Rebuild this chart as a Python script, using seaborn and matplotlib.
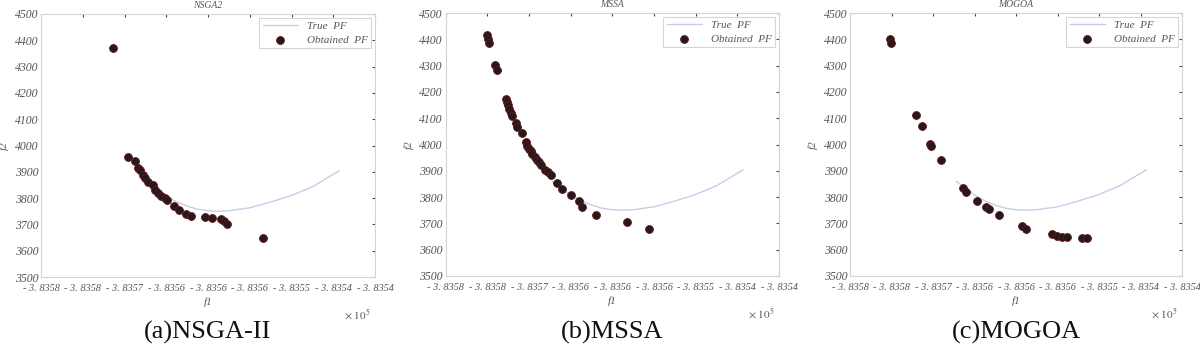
import matplotlib
matplotlib.use("Agg")
import matplotlib.pyplot as plt
import seaborn as sns
import pandas as pd

# ---------------- data (f1 in units of 1e5, f2) ----------------
x_tick_labels = ["- 3. 8358", "- 3. 8358", "- 3. 8357", "- 3. 8356", "- 3. 8356",
                 "- 3. 8356", "- 3. 8355", "- 3. 8354", "- 3. 8354"]
y_ticks = [3500, 3600, 3700, 3800, 3900, 4000, 4100, 4200, 4300, 4400, 4500]

true_f1 = [-3.835672, -3.835660, -3.835650, -3.835638, -3.835625, -3.835613,
           -3.835600, -3.835588, -3.835575, -3.835550, -3.835525, -3.835500,
           -3.835475, -3.835443]
true_f2 = [3860, 3832, 3808, 3786, 3770, 3758, 3752, 3750, 3752, 3763, 3785,
           3810, 3843, 3904]

nsga_f1 = [-3.835714, -3.835696, -3.835687, -3.835684, -3.835682, -3.835678,
           -3.835675, -3.835672, -3.835666, -3.835664, -3.835660, -3.835656,
           -3.835652, -3.835649, -3.835641, -3.835635, -3.835626, -3.835620,
           -3.835604, -3.835595, -3.835584, -3.835581, -3.835577, -3.835534]
nsga_f2 = [4372, 3955, 3941, 3913, 3905, 3888, 3875, 3862, 3849, 3830, 3820,
           3807, 3799, 3792, 3769, 3754, 3741, 3731, 3727, 3725, 3722, 3712,
           3703, 3649]

mssa_f1 = [-3.835750, -3.835749, -3.835748, -3.835741, -3.835739, -3.835728,
           -3.835726, -3.835725, -3.835724, -3.835722, -3.835720, -3.835716,
           -3.835714, -3.835709, -3.835704, -3.835702, -3.835700, -3.835698,
           -3.835696, -3.835693, -3.835690, -3.835688, -3.835686, -3.835681,
           -3.835677, -3.835674, -3.835666, -3.835660, -3.835650, -3.835640,
           -3.835637, -3.835620, -3.835582, -3.835556]
mssa_f2 = [4418, 4401, 4387, 4301, 4282, 4174, 4162, 4149, 4135, 4120, 4108,
           4083, 4067, 4044, 4008, 3996, 3984, 3974, 3964, 3952, 3942, 3934,
           3923, 3902, 3895, 3885, 3853, 3832, 3808, 3784, 3762, 3731, 3704,
           3679]

mogoa_f1 = [-3.835752, -3.835751, -3.835721, -3.835713, -3.835704, -3.835703,
            -3.835690, -3.835664, -3.835660, -3.835647, -3.835636, -3.835633,
            -3.835620, -3.835593, -3.835588, -3.835557, -3.835551, -3.835545,
            -3.835539, -3.835520, -3.835515]
mogoa_f2 = [4402, 4386, 4113, 4072, 4002, 3993, 3942, 3835, 3819, 3786, 3762,
            3756, 3731, 3689, 3680, 3660, 3651, 3648, 3648, 3644, 3644]

titles = ["NSGA2", "MSSA", "MOGOA"]
captions = ["(a)NSGA-II", "(b)MSSA", "(c)MOGOA"]
series_f1 = [nsga_f1, mssa_f1, mogoa_f1]
series_f2 = [nsga_f2, mssa_f2, mogoa_f2]

X_MIN, X_MAX = -3.83580, -3.83540
x_tick_pos = [X_MIN + i * (X_MAX - X_MIN) / 8 for i in range(9)]

# ---------------- style ----------------
sns.set_style("white")
plt.rcParams["font.family"] = ["Liberation Serif", "DejaVu Serif"]
plt.rcParams["mathtext.fontset"] = "stix"

fig = plt.figure(figsize=(12, 3.48), dpi=100)
W, H = 1200.0, 348.0
boxes = [(41, 375, 14, 277), (445.7, 779, 13, 276), (850, 1182, 13, 276)]
grey_txt = "#555555"

true_df = pd.DataFrame({"f1": true_f1, "f2": true_f2})

for i, (l, r, t, b) in enumerate(boxes):
    ax = fig.add_axes([l / W, 1 - b / H, (r - l) / W, (b - t) / H])
    sns.lineplot(data=true_df, x="f1", y="f2", ax=ax, color="#c9cde6",
                 linewidth=1.0, label="True  PF", sort=False)
    df = pd.DataFrame({"f1": series_f1[i], "f2": series_f2[i]})
    sns.scatterplot(data=df, x="f1", y="f2", ax=ax, s=32, color="#221a1c",
                    edgecolor="#6a1414", linewidth=0.6, label="Obtained  PF",
                    zorder=3)
    ax.set_xlim(X_MIN, X_MAX)
    ax.set_ylim(3500, 4500)
    ax.set_xticks(x_tick_pos)
    ax.set_xticklabels(x_tick_labels, fontsize=7.4, fontstyle="italic",
                       color=grey_txt)
    ax.set_yticks(y_ticks)
    ax.set_yticklabels([str(v) for v in y_ticks], fontsize=8.5,
                       fontstyle="italic", color=grey_txt)
    ax.tick_params(direction="in", length=2, width=0.8, color="#444444",
                   top=True, right=True)
    ax.tick_params(axis="x", pad=5)
    ax.tick_params(axis="y", pad=2)
    for sp in ax.spines.values():
        sp.set_color("#d4d4d4")
        sp.set_linewidth(0.8)
    ax.set_xlabel("f1", fontsize=8, fontstyle="italic", color=grey_txt,
                  labelpad=3)
    ax.set_ylabel("f2", fontsize=8, fontstyle="italic", color=grey_txt,
                  labelpad=4)
    ax.set_title(titles[i], fontsize=7, fontstyle="italic", color=grey_txt,
                 pad=4)
    ax.text(0.985, -0.115, r"$\times\ 10^{5}$", transform=ax.transAxes,
            ha="right", va="top", fontsize=8, color=grey_txt)
    leg = ax.legend(loc="upper right", frameon=True, fancybox=False,
                    borderaxespad=0.35, handlelength=3.2, labelspacing=0.35,
                    borderpad=0.3, prop={"style": "italic", "size": 8})
    leg.get_frame().set_edgecolor("#cccccc")
    leg.get_frame().set_linewidth(0.8)
    for txt in leg.get_texts():
        txt.set_color(grey_txt)
    fig.text((l + r) / 2 / W, 1 - 332 / H, captions[i], ha="center",
             va="center", fontsize=19, color="#111111")

fig.savefig("out.png", dpi=100)
